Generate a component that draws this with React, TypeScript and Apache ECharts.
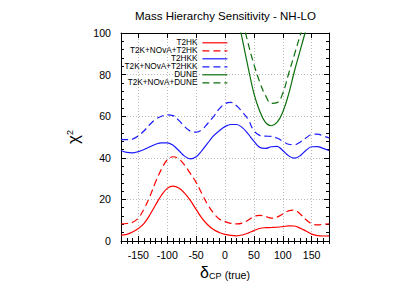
import React, { useEffect, useRef } from "react";
import * as echarts from "echarts";

const deltaCP = [-180, -170, -160, -150, -140, -130, -120, -110, -100, -90, -80, -70, -60, -50, -40, -30, -20, -10, 0, 10, 20, 30, 40, 50, 60, 70, 80, 90, 100, 110, 120, 130, 140, 150, 160, 170, 180];

const t2hk = [2.8, 3.2, 4.3, 6.0, 8.5, 12.6, 17.4, 22, 25.3, 26.4, 25.5, 23, 19.5, 15.2, 11, 7.8, 5.5, 4.1, 3.2, 2.7, 2.5, 2.9, 3.8, 5, 6, 6.4, 6.5, 6.6, 6.9, 7.3, 7.2, 6.2, 4.8, 3.3, 2.6, 2.4, 2.5];
const t2kNovaT2hk = [8.2, 8.4, 9.0, 11, 15.5, 21.5, 28.5, 34.5, 39, 40.5, 39.5, 36.5, 32.5, 28.2, 22.8, 17.5, 13.5, 10.6, 9.3, 8.5, 8.2, 8.6, 10, 11.8, 12.3, 11.8, 11, 11.5, 13, 14.5, 14.8, 13, 10.3, 8.3, 7.8, 8.0, 8.2];
const t2hkk = [43.5, 42.6, 42.4, 43, 44, 45.3, 46.5, 47.2, 47.2, 46, 43.5, 40.8, 39.5, 40.5, 43.5, 47, 50.5, 53, 55, 56, 56, 54.5, 51.5, 48, 45, 44.5, 45.3, 45.5, 43.5, 41, 39.8, 41, 43.5, 45.3, 45.4, 44.5, 43.5];
const t2kNovaT2hkk = [48.9, 48.7, 49, 50.5, 53, 56, 58.5, 60, 60.6, 60.3, 58, 55, 52.8, 52.3, 53.5, 56.5, 59.8, 63.5, 66, 66.6, 65, 62, 58.5, 53, 50.8, 50.4, 50.3, 49.5, 48, 46.5, 46.3, 47.5, 49.5, 51.2, 51.4, 50.5, 49.6];
const dune = [null, null, null, null, null, null, null, null, null, null, null, null, null, null, null, null, null, null, null, 124, 110, 97, 83.5, 71, 62.5, 57, 55.4, 57, 62, 70.5, 81.5, 91.5, 101.5, 112, null, null, null];
const t2kNovaDune = [null, null, null, null, null, null, null, null, null, null, null, null, null, null, null, null, null, null, null, null, 121, 107, 95, 85, 76.5, 70, 66.2, 66.5, 71, 80.3, 89.5, 98.8, 108, 118, null, null, null];

const seriesNames = ["T2HK", "T2K+NOvA+T2HK", "T2HKK", "T2K+NOvA+T2HKK", "DUNE", "T2K+NOvA+DUNE"];
const xMajorTicks = [-150, -100, -50, 0, 50, 100, 150];

const FONT = "'Liberation Sans', Arial, Helvetica, sans-serif";
const RED = "#ff0000";
const BLUE = "#1a1aff";
const GREEN = "#0b700b";

export default function App() {
  const ref = useRef<HTMLDivElement>(null);
  useEffect(() => {
    if (!ref.current) return;
    const chart = echarts.init(ref.current, undefined, { renderer: "svg" });
    const pairs = (arr: (number | null)[]) => deltaCP.map((d, i) => [d, arr[i]]);
    const mk = (name: string, data: (number | null)[], color: string, dashed: boolean) => ({
      name,
      type: "line",
      xAxisIndex: 0,
      yAxisIndex: 0,
      data: pairs(data),
      showSymbol: false,
      symbol: "none",
      smooth: 0.4,
      clip: true,
      connectNulls: false,
      lineStyle: { color, width: 1.2, type: dashed ? [7, 4] : "solid" },
      itemStyle: { color },
    });
    const xCommon = { type: "value", min: -180, max: 180, interval: 10 };
    const option: any = {
      animation: false,
      textStyle: { fontFamily: FONT },
      title: {
        text: "Mass Hierarchy Sensitivity - NH-LO",
        left: 135,
        top: 10,
        padding: 0,
        textStyle: { fontSize: 11.5, fontWeight: "normal", color: "#000", fontFamily: FONT },
      },
      legend: {
        orient: "vertical",
        align: "right",
        right: 187,
        top: 38.8,
        padding: 0,
        itemGap: 0,
        itemWidth: 25,
        itemHeight: 7,
        data: seriesNames,
        itemStyle: { opacity: 0, borderWidth: 0 },
        lineStyle: { width: 1.2 },
        textStyle: { fontSize: 8.2, lineHeight: 7.9, color: "#000", fontFamily: FONT },
      },
      grid: { left: 121, right: 86, top: 33, bottom: 49, containLabel: false },
      xAxis: [
        {
          ...xCommon,
          position: "bottom",
          name: "{d|δ}{s|CP} {t|(true)}",
          nameLocation: "middle",
          nameGap: 18,
          nameTextStyle: {
            color: "#000",
            rich: {
              d: { fontSize: 16, lineHeight: 18, verticalAlign: "bottom", fontFamily: FONT, color: "#000" },
              s: { fontSize: 9, lineHeight: 9, verticalAlign: "bottom", fontFamily: FONT, color: "#000" },
              t: { fontSize: 10.5, lineHeight: 12, verticalAlign: "bottom", fontFamily: FONT, color: "#000" },
            },
          },
          axisLine: { show: true, onZero: false, lineStyle: { color: "#000", width: 1 } },
          axisTick: { show: true, inside: true, length: 5, customValues: xMajorTicks, lineStyle: { color: "#000" } },
          axisLabel: { show: true, customValues: xMajorTicks, margin: 8, fontSize: 10.6, color: "#000", fontFamily: FONT },
          splitLine: { show: true, lineStyle: { color: "#b8b8b8", type: [1, 2], width: 1 } },
        },
        {
          ...xCommon,
          position: "bottom",
          axisLine: { show: false },
          axisTick: { show: true, inside: true, length: 3, lineStyle: { color: "#000" } },
          axisLabel: { show: false },
          splitLine: { show: false },
        },
        {
          ...xCommon,
          position: "top",
          axisLine: { show: true, onZero: false, lineStyle: { color: "#000", width: 1 } },
          axisTick: { show: true, inside: true, length: 5, customValues: xMajorTicks, lineStyle: { color: "#000" } },
          axisLabel: { show: false },
          splitLine: { show: false },
        },
        {
          ...xCommon,
          position: "top",
          axisLine: { show: false },
          axisTick: { show: true, inside: true, length: 3, lineStyle: { color: "#000" } },
          axisLabel: { show: false },
          splitLine: { show: false },
        },
      ],
      yAxis: [
        {
          type: "value",
          min: 0,
          max: 100,
          interval: 20,
          position: "left",
          name: "χ{sup|2}",
          nameLocation: "middle",
          nameRotate: 90,
          nameGap: 26,
          nameTextStyle: {
            fontSize: 17,
            color: "#000",
            fontFamily: FONT,
            rich: { sup: { fontSize: 9, verticalAlign: "top", lineHeight: 9, color: "#000", fontFamily: FONT } },
          },
          axisLine: { show: true, onZero: false, lineStyle: { color: "#000", width: 1 } },
          axisTick: { show: true, inside: true, length: 5, lineStyle: { color: "#000" } },
          minorTick: { show: true, splitNumber: 5, length: 3, lineStyle: { color: "#000" } },
          axisLabel: { margin: 10, fontSize: 10.6, color: "#000", fontFamily: FONT },
          splitLine: { show: true, lineStyle: { color: "#b8b8b8", type: [1, 2], width: 1 } },
        },
        {
          type: "value",
          min: 0,
          max: 100,
          interval: 20,
          position: "right",
          axisLine: { show: true, onZero: false, lineStyle: { color: "#000", width: 1 } },
          axisTick: { show: true, inside: true, length: 5, lineStyle: { color: "#000" } },
          minorTick: { show: true, splitNumber: 5, length: 3, lineStyle: { color: "#000" } },
          axisLabel: { show: false },
          splitLine: { show: false },
        },
      ],
      series: [
        mk(seriesNames[0], t2hk, RED, false),
        mk(seriesNames[1], t2kNovaT2hk, RED, true),
        mk(seriesNames[2], t2hkk, BLUE, false),
        mk(seriesNames[3], t2kNovaT2hkk, BLUE, true),
        mk(seriesNames[4], dune, GREEN, false),
        mk(seriesNames[5], t2kNovaDune, GREEN, true),
      ],
    };
    chart.setOption(option);
    return () => chart.dispose();
  }, []);
  return (
    <div
      ref={ref}
      style={{ position: "fixed", left: 0, top: 0, width: 415, height: 290, background: "#fff" }}
    />
  );
}
